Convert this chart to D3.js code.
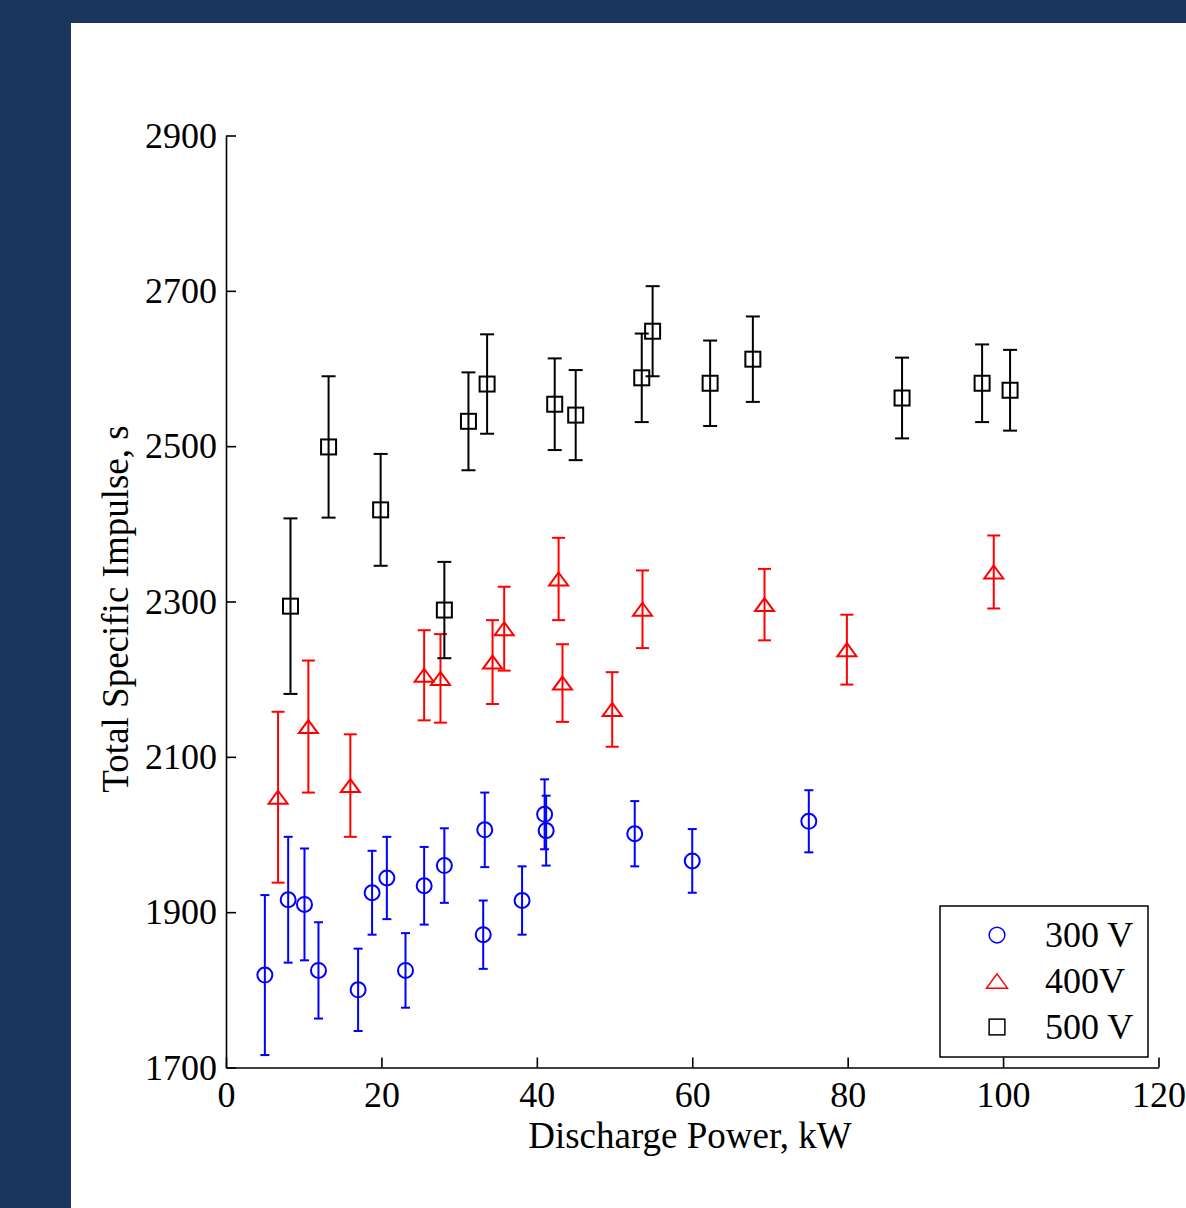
<!DOCTYPE html>
<html>
<head>
<meta charset="utf-8">
<script src="https://cdn.jsdelivr.net/npm/d3@7"></script>
<style>
  html, body { margin: 0; padding: 0; background: #1b365d; }
  svg { display: block; }
  text { font-family: "Liberation Serif", "Times New Roman", serif; fill: #000; }
</style>
</head>
<body>
<script>
// ---- data ----
const xTicks = [0, 20, 40, 60, 80, 100, 120];
const yTicks = [1700, 1900, 2100, 2300, 2500, 2700, 2900];

// 300 V
const power300 = [5.0, 8.0, 10.1, 11.9, 17.0, 18.8, 20.7, 23.1, 25.5, 28.1, 33.1, 33.3, 38.1, 41.0, 41.2, 52.6, 60.0, 75.0];
const isp300   = [1819, 1916, 1910, 1825, 1800, 1925, 1944, 1825, 1934, 1960, 1871, 2006, 1915, 2026, 2005, 2001, 1966, 2017];
const err300   = [103, 81, 72, 62, 53, 54, 53, 48, 50, 48, 44, 48, 44, 45, 45, 42, 41, 40];

// 400 V
const power400 = [6.7, 10.6, 16.0, 25.5, 27.6, 34.3, 35.8, 42.8, 43.3, 49.7, 53.6, 69.3, 79.9, 98.8];
const isp400   = [2048, 2139, 2063, 2205, 2201, 2222, 2265, 2329, 2195, 2161, 2290, 2296, 2238, 2338];
const err400   = [110, 85, 66, 58, 57, 54, 54, 53, 50, 48, 50, 46, 45, 47];

// 500 V
const power500 = [8.3, 13.2, 19.9, 28.1, 31.2, 33.6, 42.3, 45.0, 53.5, 54.9, 62.3, 67.8, 87.0, 97.3, 100.9];
const isp500   = [2294, 2499, 2418, 2289, 2532, 2580, 2554, 2540, 2588, 2648, 2581, 2612, 2562, 2581, 2572];
const err500   = [113, 91, 72, 62, 63, 64, 59, 58, 57, 58, 55, 55, 52, 50, 52];

const seriesNames = ["300 V", "400V", "500 V"];

// ---- layout ----
const W = 1186, H = 1208;
const FONT = '"Liberation Serif", "Times New Roman", serif';
const svg = d3.select("body").append("svg").attr("width", W).attr("height", H);
svg.append("rect").attr("width", W).attr("height", H).attr("fill", "#1b365d");
svg.append("rect").attr("x", 71).attr("y", 23).attr("width", W - 71).attr("height", H - 23).attr("fill", "#ffffff");

const x = d3.scaleLinear().domain([0, 120]).range([226, 1158.5]);
const y = d3.scaleLinear().domain([1700, 2900]).range([1067.5, 135.5]);

// axes
const fmt = d3.format("d");
const xAxis = d3.axisBottom(x).tickValues(xTicks).tickFormat(fmt).tickSizeInner(-10).tickSizeOuter(0).tickPadding(14);
const yAxis = d3.axisLeft(y).tickValues(yTicks).tickFormat(fmt).tickSizeInner(-10).tickSizeOuter(0).tickPadding(9);

const gx = svg.append("g").attr("transform", `translate(0,${y(1700)})`).call(xAxis);
const gy = svg.append("g").attr("transform", `translate(${x(0)},0)`).call(yAxis);
[gx, gy].forEach(g => {
  g.attr("font-family", FONT);
  g.selectAll("path.domain").attr("stroke", "#000").attr("stroke-width", 1.6);
  g.selectAll(".tick line").attr("stroke", "#000").attr("stroke-width", 1.6);
  g.selectAll(".tick text").attr("font-size", 36).attr("font-family", FONT).attr("fill", "#000");
});

// axis labels
svg.append("text")
  .attr("x", 690).attr("y", 1148)
  .attr("text-anchor", "middle").attr("font-size", 37).attr("font-family", FONT)
  .text("Discharge Power, kW");
svg.append("text")
  .attr("transform", "translate(128,609) rotate(-90)")
  .attr("text-anchor", "middle").attr("font-size", 37).attr("font-family", FONT)
  .text("Total Specific Impulse, s");

// marker generators
function drawMarker(g, type, cx, cy, color, sw, scale) {
  scale = scale || 1;
  if (type === "circle") {
    g.append("circle").attr("cx", cx).attr("cy", cy).attr("r", 7.5 * scale)
      .attr("fill", "none").attr("stroke", color).attr("stroke-width", sw);
  } else if (type === "triangle") {
    const hw = 9.5 * scale, hh = 6.5 * scale;
    g.append("path").attr("d", `M${cx},${cy - hh}L${cx + hw},${cy + hh}L${cx - hw},${cy + hh}Z`)
      .attr("fill", "none").attr("stroke", color).attr("stroke-width", sw).attr("stroke-linejoin", "miter");
  } else {
    const s = 7.5 * scale;
    g.append("rect").attr("x", cx - s).attr("y", cy - s).attr("width", 2 * s).attr("height", 2 * s)
      .attr("fill", "none").attr("stroke", color).attr("stroke-width", sw);
  }
}

const series = [
  { xs: power300, ys: isp300, es: err300, color: "#0000ff", marker: "circle", cap: 9 },
  { xs: power400, ys: isp400, es: err400, color: "#ff0000", marker: "triangle", cap: 13 },
  { xs: power500, ys: isp500, es: err500, color: "#000000", marker: "square", cap: 14 }
];

series.forEach(s => {
  const g = svg.append("g");
  s.xs.forEach((xv, i) => {
    const cx = x(xv), y0 = y(s.ys[i] - s.es[i]), y1 = y(s.ys[i] + s.es[i]);
    g.append("line").attr("x1", cx).attr("x2", cx).attr("y1", y0).attr("y2", y1)
      .attr("stroke", s.color).attr("stroke-width", 2);
    [y0, y1].forEach(yy => g.append("line")
      .attr("x1", cx - s.cap / 2).attr("x2", cx + s.cap / 2).attr("y1", yy).attr("y2", yy)
      .attr("stroke", s.color).attr("stroke-width", 2));
    drawMarker(g, s.marker, cx, y(s.ys[i]), s.color, 2);
  });
});

// legend
const lg = svg.append("g");
lg.append("rect").attr("x", 940).attr("y", 906).attr("width", 208).attr("height", 151)
  .attr("fill", "#fff").attr("stroke", "#000").attr("stroke-width", 1.5);
const rowY = [935, 981, 1027];
series.forEach((s, i) => {
  drawMarker(lg, s.marker, 997, rowY[i], s.color, 1.5, s.marker === "triangle" ? 1.1 : 1.05);
  lg.append("text").attr("x", 1045).attr("y", rowY[i]).attr("dy", "0.34em")
    .attr("font-size", 36).attr("font-family", FONT).text(seriesNames[i]);
});
</script>
</body>
</html>
